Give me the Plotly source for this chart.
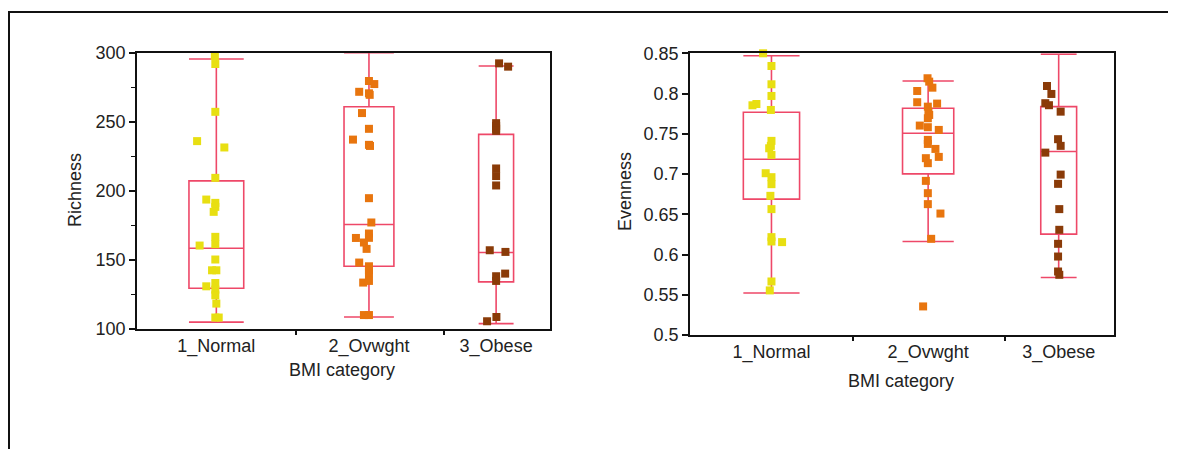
import plotly.graph_objects as go

W, H = 1178, 449

categories = ["1_Normal", "2_Ovwght", "3_Obese"]
cat_pos = [0.962, 1.993, 2.852]
box_width = [0.37, 0.337, 0.236]
point_colors = ["#E8DF12", "#E8750E", "#8A3B08"]
box_color = "#EE4868"

# Richness: box statistics per BMI category
rich_q1 = [129.5, 145.4, 134.1]
rich_median = [158.5, 175.6, 155.4]
rich_q3 = [207.2, 260.9, 240.9]
rich_low = [105.0, 108.7, 103.9]
rich_high = [295.4, 300.0, 290.4]

# Richness: individual samples and their horizontal jitter
rich_normal = [297.6, 291.8, 257.2, 236.0, 231.4, 209.4, 193.7, 191.3, 188.4, 184.8,
               166.7, 161.4, 160.4, 150.3, 142.5, 142.5, 133.3, 130.9, 128.5, 124.4,
               118.4, 108.3, 108.3]
rich_normal_dx = [-0.01, -0.007, -0.007, -0.13, 0.054, -0.007, -0.068, -0.007, -0.007, -0.018,
                  -0.007, -0.007, -0.113, -0.007, -0.029, 0.0, -0.007, -0.068, -0.007, -0.007,
                  0.0, -0.007, 0.016]
rich_ovwght = [302.4, 279.5, 277.3, 271.7, 270.6, 269.5, 256.3, 244.9, 237.1, 233.3,
               232.5, 194.7, 177.1, 169.1, 165.9, 166.0, 162.6, 158.0, 148.1, 145.4,
               142.5, 140.4, 133.6, 134.8, 110.1, 110.1]
rich_ovwght_dx = [-0.056, 0.0, 0.036, -0.066, 0.0, 0.005, -0.047, 0.0, -0.108, 0.0,
                  0.007, 0.0, 0.016, 0.0, -0.088, 0.0, -0.034, -0.016, -0.066, 0.0,
                  0.0, 0.0, -0.039, 0.0, -0.034, 0.0]
rich_obese = [292.3, 289.9, 249.0, 247.0, 245.0, 243.4, 216.2, 210.7, 203.9, 157.0,
              155.8, 140.1, 138.2, 134.8, 105.6, 108.7]
rich_obese_dx = [0.02, 0.081, 0.0, 0.0, 0.0, 0.0, 0.0, 0.0, 0.0, -0.043,
                 0.063, 0.061, 0.0, 0.0, -0.061, 0.002]

# Evenness: box statistics per BMI category
even_q1 = [0.6688, 0.7002, 0.6253]
even_median = [0.7184, 0.7507, 0.7279]
even_q3 = [0.7768, 0.7817, 0.7837]
even_low = [0.5521, 0.6162, 0.5715]
even_high = [0.847, 0.8156, 0.849]

# Evenness: individual samples and their horizontal jitter
even_normal = [0.850, 0.8342, 0.8115, 0.797, 0.7854, 0.787, 0.7796, 0.7412, 0.735, 0.732,
               0.7238, 0.701, 0.6961, 0.6874, 0.6729, 0.6564, 0.6216, 0.6162, 0.6154,
               0.5665, 0.5554]
even_normal_dx = [-0.055, 0.0, 0.0, 0.0, -0.125, -0.099, -0.004, 0.0, -0.004, -0.015,
                  0.0, -0.038, 0.0, 0.0, -0.007, 0.0, 0.0, 0.0, 0.07,
                  0.0, -0.011]
even_ovwght = [0.819, 0.8148, 0.8073, 0.8032, 0.7892, 0.7875, 0.7837, 0.7775, 0.7734, 0.7693,
               0.7602, 0.7582, 0.7548, 0.7424, 0.7374, 0.7312, 0.7213, 0.7197, 0.7135,
               0.6915, 0.6762, 0.6626, 0.6509, 0.6195, 0.5355]
even_ovwght_dx = [-0.004, 0.007, 0.028, -0.072, -0.072, 0.059, -0.002, 0.002, 0.007, -0.002,
                  -0.055, -0.002, 0.07, -0.002, -0.002, 0.048, 0.07, -0.015, -0.002,
                  -0.015, -0.002, -0.002, 0.081, 0.02, -0.033]
even_obese = [0.852, 0.8094, 0.7995, 0.788, 0.7855, 0.7775, 0.7433, 0.735, 0.7266, 0.6993,
              0.6878, 0.6564, 0.6307, 0.6133, 0.5975, 0.5789, 0.5748]
even_obese_dx = [-0.004, -0.077, -0.048, -0.088, -0.064, 0.013, -0.004, 0.013, -0.088, 0.013,
                 -0.004, 0.004, 0.004, -0.004, -0.004, -0.004, 0.004]

FONT = "Liberation Sans, Arial, sans-serif"
TEXT = "#222222"

fig = go.Figure()


def add_panel(xa, ya, q1, med, q3, low, high, samples):
    for i in range(len(categories)):
        fig.add_trace(go.Box(
            x=[cat_pos[i]], q1=[q1[i]], median=[med[i]], q3=[q3[i]],
            lowerfence=[low[i]], upperfence=[high[i]],
            width=box_width[i], whiskerwidth=1,
            line=dict(color=box_color, width=1.6),
            fillcolor="rgba(255,255,255,0)",
            boxpoints=False, hoverinfo="skip", showlegend=False,
            xaxis=xa, yaxis=ya,
        ))
    for i, (vals, dx) in enumerate(samples):
        fig.add_trace(go.Scatter(
            x=[cat_pos[i] + d for d in dx], y=vals, mode="markers",
            marker=dict(symbol="square", size=8, color=point_colors[i],
                        line=dict(width=0)),
            cliponaxis=False, showlegend=False, xaxis=xa, yaxis=ya,
        ))


add_panel("x", "y", rich_q1, rich_median, rich_q3, rich_low, rich_high,
          [(rich_normal, rich_normal_dx), (rich_ovwght, rich_ovwght_dx),
           (rich_obese, rich_obese_dx)])
add_panel("x2", "y2", even_q1, even_median, even_q3, even_low, even_high,
          [(even_normal, even_normal_dx), (even_ovwght, even_ovwght_dx),
           (even_obese, even_obese_dx)])

# invisible traces that anchor the boundary-tick axes
fig.add_trace(go.Scatter(x=[1.5], y=[200], mode="markers", marker=dict(opacity=0),
                         showlegend=False, hoverinfo="skip", xaxis="x3", yaxis="y"))
fig.add_trace(go.Scatter(x=[1.5], y=[0.7], mode="markers", marker=dict(opacity=0),
                         showlegend=False, hoverinfo="skip", xaxis="x4", yaxis="y2"))


def px_x(p):
    return p / W


def px_y(p):
    return 1 - p / H


xrange = [0.426, 3.216]
dom_left = [px_x(137), px_x(550)]
dom_right = [px_x(690), px_x(1114)]
ydom_left = [px_y(329), px_y(52.7)]
ydom_right = [px_y(335), px_y(53.3)]

frame = dict(showline=True, linecolor="#111111", linewidth=1.6, mirror=True,
             showgrid=False, zeroline=False, automargin=False)
tickfont = dict(family=FONT, size=18, color=TEXT)

cat_axis = dict(range=xrange, tickmode="array", tickvals=cat_pos, ticktext=categories,
                ticks="", ticklen=0, tickfont=tickfont, **frame)
bound_axis = dict(range=xrange, tickmode="array", tickvals=[1.5, 2.5],
                  ticktext=["", ""], ticks="outside", ticklen=5, tickwidth=1.6,
                  tickcolor="#111111", showline=False, showgrid=False, zeroline=False,
                  automargin=False)

fig.update_layout(
    width=W, height=H, autosize=False,
    margin=dict(l=0, r=0, t=0, b=0, pad=0, autoexpand=False),
    paper_bgcolor="white", plot_bgcolor="white",
    font=dict(family=FONT, color=TEXT),
    showlegend=False,
    xaxis=dict(domain=dom_left, anchor="y", **cat_axis),
    xaxis2=dict(domain=dom_right, anchor="y2", **cat_axis),
    xaxis3=dict(domain=dom_left, anchor="y", overlaying="x", side="bottom", **bound_axis),
    xaxis4=dict(domain=dom_right, anchor="y2", overlaying="x2", side="bottom", **bound_axis),
    yaxis=dict(domain=ydom_left, anchor="x", range=[100, 300], tickmode="linear",
               tick0=100, dtick=50, ticks="outside", ticklen=6, tickwidth=1.6,
               tickcolor="#111111", tickfont=tickfont,
               minor=dict(ticks="outside", ticklen=4, tickwidth=1.4,
                          tickcolor="#111111", dtick=25, tick0=100, showgrid=False),
               **frame),
    yaxis2=dict(domain=ydom_right, anchor="x2", range=[0.5, 0.85], tickmode="array",
                tickvals=[0.5, 0.55, 0.6, 0.65, 0.7, 0.75, 0.8, 0.85],
                ticktext=["0.5", "0.55", "0.6", "0.65", "0.7", "0.75", "0.8", "0.85"],
                ticks="outside", ticklen=6, tickwidth=1.6, tickcolor="#111111",
                tickfont=tickfont, **frame),
)

title_font = dict(family=FONT, size=18, color=TEXT)
annotations = [
    dict(text="Richness", x=px_x(75), y=px_y(190), textangle=-90),
    dict(text="BMI category", x=px_x(342), y=px_y(370)),
    dict(text="Evenness", x=px_x(625), y=px_y(192), textangle=-90),
    dict(text="BMI category", x=px_x(901), y=px_y(381)),
]
for a in annotations:
    fig.add_annotation(xref="paper", yref="paper", showarrow=False,
                       xanchor="center", yanchor="middle", font=title_font, **a)

# outer frame: left and top edges
fig.add_shape(type="path", xref="paper", yref="paper",
              path=f"M {px_x(9)} {px_y(449)} L {px_x(9)} {px_y(12)} L {px_x(1168)} {px_y(12)}",
              line=dict(color="#111111", width=2))

page_css = ("document.body.style.margin='0';document.body.style.padding='0';"
            "document.documentElement.style.overflow='hidden';")
fig.write_html("out.html", config={"responsive": False, "displayModeBar": False},
               post_script=page_css)
